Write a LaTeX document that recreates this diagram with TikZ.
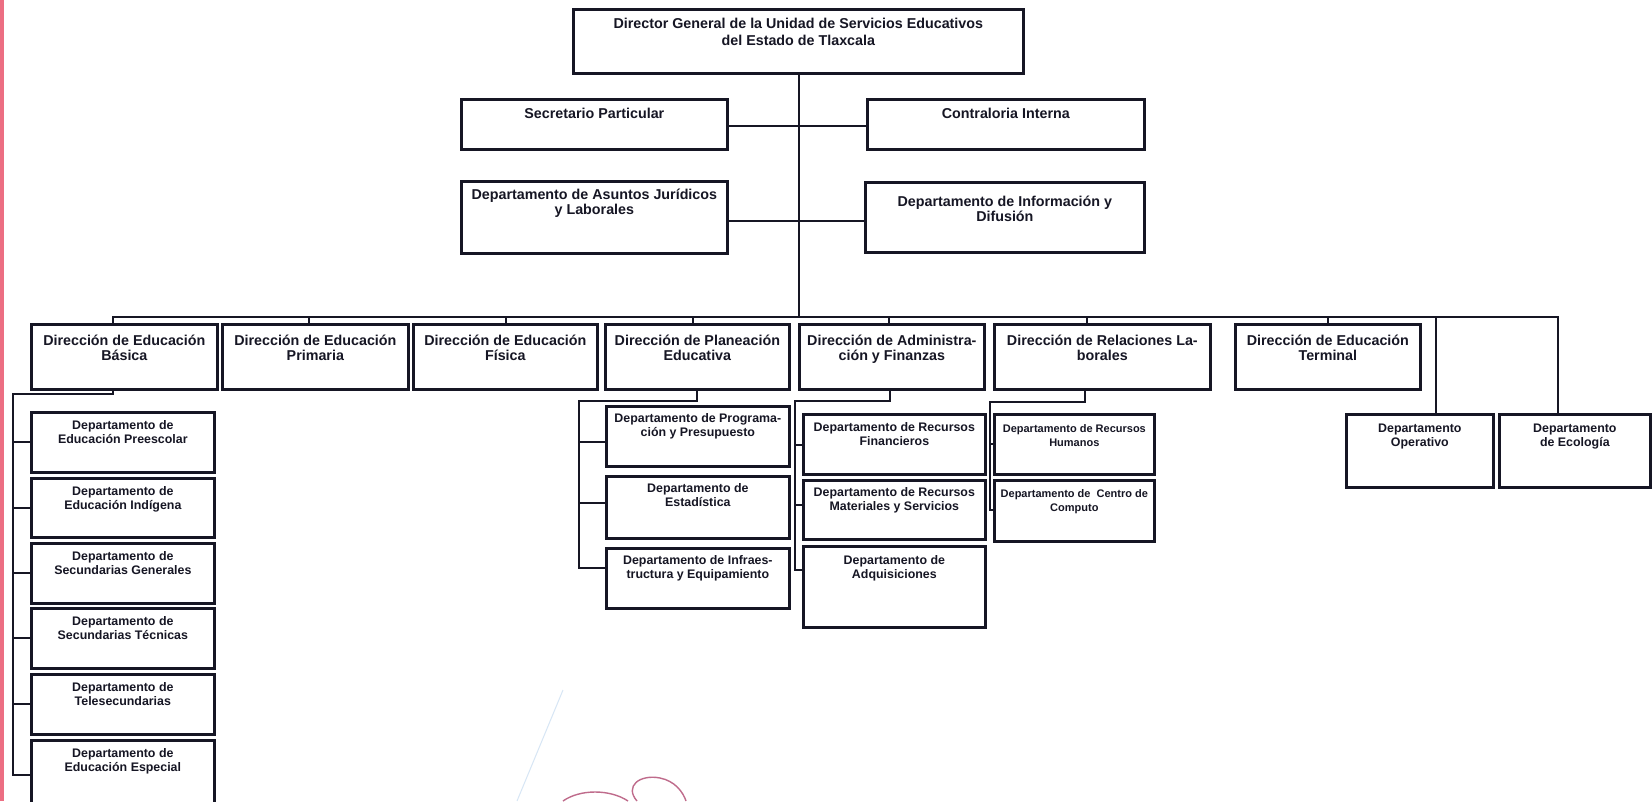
\documentclass[tikz,border=0pt]{standalone}
\usepackage{fontspec}
\setmainfont{Liberation Sans}
\usetikzlibrary{calc}
\definecolor{ink}{RGB}{22,22,36}
\definecolor{pinkedge}{RGB}{236,110,130}
\definecolor{wmark}{RGB}{175,70,110}
\definecolor{wblue}{RGB}{215,230,245}
\newcommand{\mlines}[1]{\begin{tabular}[t]{@{}c@{}}#1\end{tabular}}
\newcommand{\obox}[5]{\node[orgbox, minimum width=#4pt, minimum height=#5pt] (#1) at (#2,#3) {};}
\begin{document}
\begin{tikzpicture}[x=1pt,y=-1pt,
  orgbox/.style={draw=ink, line width=2.7pt, inner sep=0pt, anchor=north west},
  conn/.style={draw=ink, line width=2.1pt, line join=miter},
  ttop/.style={font=\fontsize{14.3}{17}\selectfont\bfseries, text=ink, inner sep=0pt, anchor=base},
  tdir/.style={font=\fontsize{14.3}{15.5}\selectfont\bfseries, text=ink, inner sep=0pt, anchor=base},
  tdep/.style={font=\fontsize{12.4}{14}\selectfont\bfseries, text=ink, inner sep=0pt, anchor=base},
  tdeps/.style={font=\fontsize{11}{14}\selectfont\bfseries, text=ink, inner sep=0pt, anchor=base},
  wm/.style={draw=wmark, line width=1.4pt, opacity=0.8}
]
\clip (0,0) rectangle (1652,801);
\fill[white] (0,0) rectangle (1652,801);
\fill[pinkedge] (0,0) rectangle (3.5,801);

% ---- boxes ----
\obox{top}{572}{8}{450}{64}
\obox{sec}{460}{98}{266}{50}
\obox{contra}{866}{98}{277}{50}
\obox{asun}{460}{180}{266}{72}
\obox{info}{864}{181}{279}{70}

\obox{basica}{30}{323}{186}{65}
\obox{prim}{221}{323}{186}{65}
\obox{fis}{412}{323}{184}{65}
\obox{plan}{604}{323}{184}{65}
\obox{admin}{798}{323}{185}{65}
\obox{rel}{993}{323}{216}{65}
\obox{term}{1234}{323}{185}{65}

\obox{pre}{30}{411}{183}{60}
\obox{ind}{30}{477}{183}{59}
\obox{gen}{30}{542}{183}{60}
\obox{tec}{30}{607}{183}{60}
\obox{tele}{30}{673}{183}{60}
\obox{esp}{30}{739}{183}{70}

\obox{prog}{605}{405}{183}{60}
\obox{est}{605}{475}{183}{62}
\obox{infra}{605}{547}{183}{60}

\obox{fin}{802}{413}{182}{60}
\obox{mat}{802}{479}{182}{59}
\obox{adq}{802}{545}{182}{81}

\obox{rrhh}{993}{413}{160}{60}
\obox{comp}{993}{479}{160}{61}

\obox{oper}{1345}{413}{147}{73}
\obox{eco}{1498}{413}{151}{73}

% ---- texts ----
\node[ttop] (t-top) at ([yshift=-20pt]top.north) {\mlines{Director General de la Unidad de Servicios Educativos\\del Estado de Tlaxcala}};
\node[ttop] (t-sec) at ([yshift=-20pt]sec.north) {Secretario Particular};
\node[ttop] (t-contra) at ([yshift=-20pt]contra.north) {Contraloria Interna};
\node[tdir] (t-asun) at ([yshift=-19pt]asun.north) {\mlines{Departamento de Asuntos Jurídicos\\y Laborales}};
\node[tdir] (t-info) at ([yshift=-25pt]info.north) {\mlines{Departamento de Información y\\Difusión}};

\node[tdir] (t-basica) at ([yshift=-22pt]basica.north) {\mlines{Dirección de Educación\\Básica}};
\node[tdir] (t-prim) at ([yshift=-22pt]prim.north) {\mlines{Dirección de Educación\\Primaria}};
\node[tdir] (t-fis) at ([yshift=-22pt]fis.north) {\mlines{Dirección de Educación\\Física}};
\node[tdir] (t-plan) at ([yshift=-22pt]plan.north) {\mlines{Dirección de Planeación\\Educativa}};
\node[tdir] (t-admin) at ([yshift=-22pt]admin.north) {\mlines{Dirección de Administra-\\ción y Finanzas}};
\node[tdir] (t-rel) at ([yshift=-22pt]rel.north) {\mlines{Dirección de Relaciones La-\\borales}};
\node[tdir] (t-term) at ([yshift=-22pt]term.north) {\mlines{Dirección de Educación\\Terminal}};

\node[tdep] (t-pre) at ([yshift=-18pt]pre.north) {\mlines{Departamento de\\Educación Preescolar}};
\node[tdep] (t-ind) at ([yshift=-18pt]ind.north) {\mlines{Departamento de\\Educación Indígena}};
\node[tdep] (t-gen) at ([yshift=-18pt]gen.north) {\mlines{Departamento de\\Secundarias Generales}};
\node[tdep] (t-tec) at ([yshift=-18pt]tec.north) {\mlines{Departamento de\\Secundarias Técnicas}};
\node[tdep] (t-tele) at ([yshift=-18pt]tele.north) {\mlines{Departamento de\\Telesecundarias}};
\node[tdep] (t-esp) at ([yshift=-18pt]esp.north) {\mlines{Departamento de\\Educación Especial}};

\node[tdep] (t-prog) at ([yshift=-17pt]prog.north) {\mlines{Departamento de Programa-\\ción y Presupuesto}};
\node[tdep] (t-est) at ([yshift=-17pt]est.north) {\mlines{Departamento de\\Estadística}};
\node[tdep] (t-infra) at ([yshift=-17pt]infra.north) {\mlines{Departamento de Infraes-\\tructura y Equipamiento}};

\node[tdep] (t-fin) at ([yshift=-18pt]fin.north) {\mlines{Departamento de Recursos\\Financieros}};
\node[tdep] (t-mat) at ([yshift=-17pt]mat.north) {\mlines{Departamento de Recursos\\Materiales y Servicios}};
\node[tdep] (t-adq) at ([yshift=-19pt]adq.north) {\mlines{Departamento de\\Adquisiciones}};

\node[tdeps] (t-rrhh) at ([yshift=-19pt]rrhh.north) {\mlines{Departamento de Recursos\\Humanos}};
\node[tdeps] (t-comp) at ([yshift=-18pt]comp.north) {\mlines{Departamento de~~Centro de\\Computo}};

\node[tdep] (t-oper) at ([yshift=-19pt]oper.north) {\mlines{Departamento\\Operativo}};
\node[tdep] (t-eco) at ([yshift=-19pt]eco.north) {\mlines{Departamento\\de Ecología}};

% ---- connectors ----
\coordinate (tr) at (799,317);
\draw[conn] (top.south -| tr) -- (tr);
\draw[conn] ([yshift=-2pt]sec.east) -- ([yshift=-2pt]contra.west);
\draw[conn] ([yshift=-4pt]asun.east) -- ([yshift=-4pt]info.west);

\coordinate (b1) at (113,317);
\coordinate (b2) at (309,317);
\coordinate (b3) at (506,317);
\coordinate (b4) at (693,317);
\coordinate (b5) at (889,317);
\coordinate (b6) at (1087,317);
\coordinate (b7) at (1328,317);
\coordinate (b8) at (1436,317);
\coordinate (b9) at (1558,317);
\draw[conn] (basica.north -| b1) -- (b1) -- (b9) -- (eco.north -| b9);
\draw[conn] (b2) -- (prim.north -| b2);
\draw[conn] (b3) -- (fis.north -| b3);
\draw[conn] (b4) -- (plan.north -| b4);
\draw[conn] (b5) -- (admin.north -| b5);
\draw[conn] (b6) -- (rel.north -| b6);
\draw[conn] (b7) -- (term.north -| b7);
\draw[conn] (b8) -- (oper.north -| b8);

% Basica
\coordinate (bv) at (13,394);
\coordinate (bve) at (13,775);
\draw[conn] (basica.south -| b1) |- (bv) -- (bve) -- (esp.west |- bve);
\draw[conn] (bv |- pre.west) -- (pre.west);
\draw[conn] (bv |- ind.west) -- (ind.west);
\draw[conn] (bv |- gen.west) -- (gen.west);
\draw[conn] (bv |- tec.west) -- (tec.west);
\draw[conn] (bv |- tele.west) -- (tele.west);

% Planeacion
\coordinate (pv) at (579,401);
\coordinate (pve) at (579,568);
\coordinate (ps1) at (579,442);
\coordinate (ps2) at (579,503);
\draw[conn] (plan.south) |- (pv) -- (pve) -- (infra.west |- pve);
\draw[conn] (ps1) -- (prog.west |- ps1);
\draw[conn] (ps2) -- (est.west |- ps2);

% Administracion
\coordinate (av) at (795,401);
\coordinate (ave) at (795,570);
\coordinate (as1) at (795,445);
\coordinate (as2) at (795,505);
\draw[conn] ([xshift=-2pt]admin.south) |- (av) -- (ave) -- (adq.west |- ave);
\draw[conn] (as1) -- (fin.west |- as1);
\draw[conn] (as2) -- (mat.west |- as2);

% Relaciones
\coordinate (rv) at (990,402);
\coordinate (rve) at (990,510);
\draw[conn] ([xshift=-17pt]rel.south) |- (rv) -- (rve) -- (comp.west |- rve);
\draw[conn] (rv |- rrhh.west) -- (rrhh.west);

% ---- watermark traces ----
\draw[wblue, line width=1pt] (517,801) -- (563,690);
\draw[wm] (563,801) .. controls (580,789) and (610,789) .. (628,801);
\draw[wm] (637,801) .. controls (624,786) and (640,774) .. (660,778) .. controls (675,781) and (683,792) .. (686,801);
\end{tikzpicture}
\end{document}
